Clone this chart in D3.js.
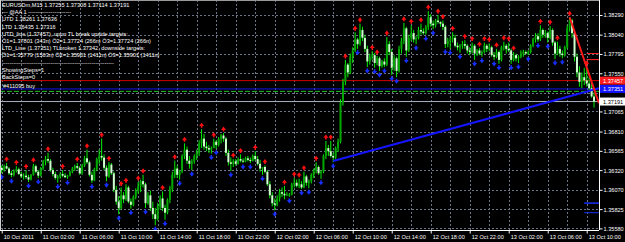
<!DOCTYPE html>
<html>
<head>
<meta charset="utf-8">
<script src="https://cdn.jsdelivr.net/npm/d3@7"></script>
<style>
  body { margin: 0; background: #000; }
  svg text { font-family: "Liberation Sans", Arial, sans-serif; }
</style>
</head>
<body>
<div id="chart"></div>
<script>
// EURUSDm M15, 10 Oct 2011 22:00 -> 13 Oct 2011 10:45
let startTime = new Date(2011, 9, 10, 22, 0);

let timeLabels = ["10 Oct 2011", "11 Oct 02:00", "11 Oct 06:00", "11 Oct 10:00", "11 Oct 14:00",
  "11 Oct 18:00", "11 Oct 22:00", "12 Oct 02:00", "12 Oct 06:00", "12 Oct 10:00", "12 Oct 14:00",
  "12 Oct 18:00", "12 Oct 22:00", "13 Oct 02:00", "13 Oct 06:00", "13 Oct 10:00"];

let priceTicks = [1.38290, 1.38040, 1.37795, 1.37550, 1.37305, 1.37065, 1.36810, 1.36565,
  1.36320, 1.36070, 1.35825, 1.35580];
// this one sits under the line labels, so MT4 hides it
let hiddenTick = 1.37305;

let opens = [1.3635,1.3632,1.3637,1.3634,1.3628,1.3626,1.3631,1.3633,1.3627,1.3624,1.3625,1.3623,1.3620,1.3626,1.3637,1.3630,
  1.3625,1.3634,1.3643,1.3646,1.3644,1.3632,1.3627,1.3622,1.3624,1.3627,1.3625,1.3623,1.3625,1.3630,1.3634,1.3637,
  1.3635,1.3628,1.3638,1.3647,1.3642,1.3626,1.3619,1.3633,1.3646,1.3650,1.3648,1.3635,1.3624,1.3639,1.3628,1.3607,
  1.3592,1.3584,1.3600,1.3595,1.3610,1.3592,1.3588,1.3598,1.3606,1.3612,1.3618,1.3614,1.3590,1.3600,1.3584,1.3576,
  1.3570,1.3586,1.3596,1.3584,1.3578,1.3594,1.3608,1.3626,1.3634,1.3626,1.3630,1.3650,1.3658,1.3644,1.3640,1.3643,
  1.3650,1.3654,1.3666,1.3672,1.3662,1.3660,1.3658,1.3660,1.3668,1.3664,1.3672,1.3676,1.3672,1.3654,1.3642,1.3640,
  1.3643,1.3640,1.3646,1.3644,1.3643,1.3647,1.3645,1.3644,1.3650,1.3646,1.3640,1.3634,1.3636,1.3630,1.3614,1.3600,
  1.3590,1.3588,1.3596,1.3604,1.3602,1.3600,1.3601,1.3601,1.3614,1.3616,1.3612,1.3614,1.3610,1.3624,1.3616,1.3618,
  1.3626,1.3632,1.3636,1.3628,1.3630,1.3650,1.3660,1.3656,1.3650,1.3648,1.3660,1.3668,1.3718,1.3744,1.3766,1.3756,
  1.3776,1.3784,1.3798,1.3792,1.3810,1.3800,1.3786,1.3770,1.3776,1.3778,1.3768,1.3774,1.3764,1.3770,1.3766,1.3792,
  1.3782,1.3762,1.3774,1.3758,1.3786,1.3796,1.3812,1.3784,1.3800,1.3806,1.3798,1.3800,1.3810,1.3808,1.3806,1.3814,
  1.3826,1.3818,1.3816,1.3822,1.3820,1.3818,1.3814,1.3792,1.3796,1.3798,1.3800,1.3790,1.3788,1.3790,1.3792,1.3790,
  1.3784,1.3782,1.3790,1.3780,1.3784,1.3780,1.3782,1.3790,1.3786,1.3788,1.3778,1.3776,1.3782,1.3772,1.3788,1.3790,
  1.3786,1.3784,1.3772,1.3778,1.3774,1.3776,1.3780,1.3782,1.3780,1.3782,1.3790,1.3798,1.3802,1.3798,1.3810,1.3804,
  1.3806,1.3800,1.3810,1.3794,1.3780,1.3786,1.3780,1.3778,1.3788,1.3812,1.3822,1.3806,1.3776,1.3756,1.3744,1.3750,
  1.3746,1.3742,1.3736,1.37255];

let highs = [1.3638,1.3639,1.3641,1.3636,1.3631,1.3633,1.3637,1.3635,1.3630,1.3628,1.3632,1.3626,1.3627,1.3640,1.3639,1.3632,
  1.3636,1.3645,1.3650,1.3654,1.3646,1.3635,1.3630,1.3626,1.3629,1.3632,1.3628,1.3626,1.3631,1.3636,1.3639,1.3641,
  1.3637,1.3640,1.3650,1.3658,1.3644,1.3630,1.3635,1.3648,1.3658,1.3672,1.3652,1.3638,1.3642,1.3641,1.3630,1.3612,
  1.3599,1.3610,1.3604,1.3614,1.3612,1.3596,1.3600,1.3609,1.3617,1.3620,1.3626,1.3616,1.3604,1.3606,1.3592,1.3584,
  1.3590,1.3600,1.3605,1.3588,1.3596,1.3612,1.3630,1.3644,1.3638,1.3632,1.3652,1.3666,1.3662,1.3650,1.3646,1.3652,
  1.3658,1.3670,1.3684,1.3678,1.3668,1.3664,1.3662,1.3672,1.3670,1.3674,1.3678,1.3679,1.3674,1.3658,1.3648,1.3646,
  1.3646,1.3648,1.3652,1.3647,1.3649,1.3650,1.3648,1.3652,1.3656,1.3650,1.3645,1.3636,1.3638,1.3632,1.3618,1.3604,
  1.3596,1.3600,1.3608,1.3610,1.3612,1.3604,1.3603,1.3616,1.3622,1.3620,1.3621,1.3618,1.3630,1.3626,1.3620,1.3628,
  1.3634,1.3642,1.3638,1.3632,1.3652,1.3669,1.3664,1.3669,1.3654,1.3662,1.3672,1.3722,1.3748,1.3772,1.3768,1.3780,
  1.3788,1.3807,1.3800,1.3818,1.3814,1.3804,1.3790,1.3780,1.3783,1.3781,1.3777,1.3776,1.3772,1.3774,1.3801,1.3796,
  1.3786,1.3778,1.3776,1.3790,1.3800,1.3819,1.3814,1.3804,1.3816,1.3810,1.3802,1.3814,1.3818,1.3812,1.3816,1.3834,
  1.3830,1.3822,1.3824,1.3829,1.3821,1.3822,1.3816,1.3800,1.3802,1.3807,1.3804,1.3794,1.3792,1.3796,1.3797,1.3792,
  1.3788,1.3794,1.3792,1.3786,1.3787,1.3784,1.3794,1.3792,1.3793,1.3790,1.3782,1.3786,1.3784,1.3790,1.3795,1.3792,
  1.3794,1.3786,1.3782,1.3780,1.3778,1.3784,1.3785,1.3784,1.3784,1.3792,1.3800,1.3806,1.3806,1.3816,1.3812,1.3810,
  1.3808,1.3815,1.3812,1.3796,1.3795,1.3790,1.3784,1.3790,1.3816,1.3826,1.3824,1.3810,1.3780,1.3764,1.3756,1.3762,
  1.3763,1.3750,1.3744,1.37308];

let lows = [1.3628,1.3630,1.3633,1.3626,1.3623,1.3624,1.3629,1.3626,1.3622,1.3620,1.3621,1.3617,1.3619,1.3625,1.3628,1.3622,
  1.3624,1.3632,1.3638,1.3641,1.3630,1.3624,1.3620,1.3616,1.3621,1.3623,1.3622,1.3621,1.3624,1.3628,1.3631,1.3633,
  1.3626,1.3626,1.3636,1.3640,1.3624,1.3616,1.3618,1.3631,1.3640,1.3644,1.3632,1.3618,1.3622,1.3626,1.3604,1.3588,
  1.3576,1.3582,1.3590,1.3593,1.3590,1.3583,1.3586,1.3595,1.3602,1.3604,1.3610,1.3584,1.3588,1.3580,1.3570,1.3562,
  1.3568,1.3582,1.3580,1.3569,1.3576,1.3590,1.3604,1.3622,1.3622,1.3620,1.3628,1.3646,1.3640,1.3634,1.3632,1.3640,
  1.3645,1.3650,1.3660,1.3658,1.3656,1.3654,1.3653,1.3660,1.3659,1.3662,1.3666,1.3668,1.3650,1.3638,1.3631,1.3636,
  1.3638,1.3639,1.3642,1.3641,1.3642,1.3643,1.3641,1.3643,1.3644,1.3638,1.3630,1.3626,1.3628,1.3612,1.3596,1.3586,
  1.3581,1.3586,1.3592,1.3598,1.3595,1.3599,1.3598,1.3600,1.3610,1.3610,1.3609,1.3608,1.3609,1.3612,1.3609,1.3615,
  1.3622,1.3628,1.3626,1.3621,1.3628,1.3646,1.3650,1.3648,1.3642,1.3646,1.3655,1.3666,1.3714,1.3740,1.3750,1.3754,
  1.3768,1.3782,1.3786,1.3790,1.3796,1.3782,1.3763,1.3766,1.3772,1.3762,1.3765,1.3758,1.3762,1.3763,1.3764,1.3778,
  1.3753,1.3758,1.3750,1.3756,1.3780,1.3792,1.3776,1.3782,1.3796,1.3794,1.3792,1.3798,1.3804,1.3804,1.3804,1.3810,
  1.3814,1.3811,1.3813,1.3818,1.3814,1.3810,1.3787,1.3788,1.3786,1.3794,1.3788,1.3784,1.3781,1.3786,1.3786,1.3780,
  1.3778,1.3780,1.3772,1.3777,1.3778,1.3776,1.3780,1.3782,1.3783,1.3776,1.3772,1.3774,1.3767,1.3770,1.3784,1.3780,
  1.3782,1.3767,1.3770,1.3770,1.3768,1.3774,1.3776,1.3779,1.3778,1.3780,1.3788,1.3794,1.3795,1.3796,1.3800,1.3800,
  1.3794,1.3798,1.3790,1.3773,1.3778,1.3776,1.3774,1.3776,1.3786,1.3808,1.3800,1.3770,1.3750,1.3738,1.3736,1.3740,
  1.3738,1.3732,1.3724,1.37114];

let closes = [1.3632,1.3637,1.3634,1.3628,1.3626,1.3631,1.3633,1.3627,1.3624,1.3625,1.3623,1.3620,1.3626,1.3637,1.3630,1.3625,
  1.3634,1.3643,1.3646,1.3644,1.3632,1.3627,1.3622,1.3624,1.3627,1.3625,1.3623,1.3625,1.3630,1.3634,1.3637,1.3635,
  1.3628,1.3638,1.3647,1.3642,1.3626,1.3619,1.3633,1.3646,1.3650,1.3648,1.3635,1.3624,1.3639,1.3628,1.3607,1.3592,
  1.3584,1.3600,1.3595,1.3610,1.3592,1.3588,1.3598,1.3606,1.3612,1.3618,1.3614,1.3590,1.3600,1.3584,1.3576,1.3570,
  1.3586,1.3596,1.3584,1.3578,1.3594,1.3608,1.3626,1.3634,1.3626,1.3630,1.3650,1.3658,1.3644,1.3640,1.3643,1.3650,
  1.3654,1.3666,1.3672,1.3662,1.3660,1.3658,1.3660,1.3668,1.3664,1.3672,1.3676,1.3672,1.3654,1.3642,1.3640,1.3643,
  1.3640,1.3646,1.3644,1.3643,1.3647,1.3645,1.3644,1.3650,1.3646,1.3640,1.3634,1.3636,1.3630,1.3614,1.3600,1.3590,
  1.3588,1.3596,1.3604,1.3602,1.3600,1.3601,1.3601,1.3614,1.3616,1.3612,1.3614,1.3610,1.3624,1.3616,1.3618,1.3626,
  1.3632,1.3636,1.3628,1.3630,1.3650,1.3660,1.3656,1.3650,1.3648,1.3660,1.3668,1.3718,1.3744,1.3766,1.3756,1.3776,
  1.3784,1.3798,1.3792,1.3810,1.3800,1.3786,1.3770,1.3776,1.3778,1.3768,1.3774,1.3764,1.3770,1.3766,1.3792,1.3782,
  1.3762,1.3774,1.3758,1.3786,1.3796,1.3812,1.3784,1.3800,1.3806,1.3798,1.3800,1.3810,1.3808,1.3806,1.3814,1.3826,
  1.3818,1.3816,1.3822,1.3820,1.3818,1.3814,1.3792,1.3796,1.3798,1.3800,1.3790,1.3788,1.3790,1.3792,1.3790,1.3784,
  1.3782,1.3790,1.3780,1.3784,1.3780,1.3782,1.3790,1.3786,1.3788,1.3778,1.3776,1.3782,1.3772,1.3788,1.3790,1.3786,
  1.3784,1.3772,1.3778,1.3774,1.3776,1.3780,1.3782,1.3780,1.3782,1.3790,1.3798,1.3802,1.3798,1.3810,1.3804,1.3806,
  1.3800,1.3810,1.3794,1.3780,1.3786,1.3780,1.3778,1.3788,1.3812,1.3822,1.3806,1.3776,1.3756,1.3744,1.3750,1.3746,
  1.3742,1.3736,1.37255,1.37191];

// fractal arrows (bar indexes)
let upFractals = [2,6,10,13,19,25,31,35,41,44,49,51,56,58,66,71,75,82,87,91,95,98,104,108,116,120,122,124,129,
  133,135,141,145,147,152,154,158,165,168,172,175,179,181,185,190,193,196,198,200,203,206,208,210,221,225,228,233,240];
let downFractals = [0,4,11,15,23,27,37,43,48,53,59,63,67,73,78,86,88,94,99,102,107,112,118,123,126,131,136,146,
  150,153,155,157,160,162,166,170,174,177,182,184,188,194,197,202,204,209,212,216,220,224,227,230];

// indicator levels and trend lines
let utdLevel = 1.37457;
let ltdLevel = 1.37351;
let bidPrice = 1.37191;
let orderPrice = 1.37320;
let upTargets = [1.37801, 1.37724, 1.37724];
let downTargets = [1.35779, 1.35901, 1.35901];
let utdLine = [[233, 1.38261], [245, 1.37170]];
let ltdLine = [[136, 1.36435], [245, 1.37359]];

let infoLines = [
  "EURUSDm,M15  1.37255 1.37308 1.37114 1.37191",
  "---      @AA 1      -----------------------",
  "UTD  1.38261  1.37636",
  "LTD  1.36435  1.37316",
  "UTD_line (1.37457), upon TL break upside targets:",
  "Ö1=1.37801 (343п) Ö2=1.37724 (266п) Ö3=1.37724 (266п)",
  "LTD_Line (1.37351) TLbroken 1.37342, downside targets:",
  "Ö1=1.35779 (1563п) Ö2=1.35901 (1411п) Ö3=1.35901 (1411п)",
  "------------------------------------------------------------",
  "ShowingSteps=1",
  "BackSteps=0"
];

let svgWidth = 625;
let svgHeight = 242;
let plot = { left: 0, right: 599, top: 0, bottom: 230 };

let barTime = i => new Date(startTime.getTime() + i * 15 * 60000);

let svg = d3.select("#chart")
  .append("svg")
  .attr("width", svgWidth)
  .attr("height", svgHeight)
  .style("background", "#000");

let xScale = d3.scaleTime()
  .domain([barTime(0), barTime(245)])
  .range([1.7, 598.9]);

let yScale = d3.scaleLinear()
  .domain([1.35580, 1.38290])
  .range([228.4, 15]);

svg.append("clipPath").attr("id", "plotClip")
  .append("rect")
  .attr("x", plot.left).attr("y", plot.top)
  .attr("width", plot.right - plot.left).attr("height", plot.bottom - plot.top);

// grid
let grid = svg.append("g").attr("stroke", "#6c7686").attr("stroke-dasharray", "2,2").attr("stroke-width", 1);
grid.selectAll("line.h")
  .data(priceTicks)
  .enter()
  .append("line")
  .attr("x1", 0).attr("x2", plot.right)
  .attr("y1", d => Math.round(yScale(d)) + 0.5)
  .attr("y2", d => Math.round(yScale(d)) + 0.5);

grid.selectAll("line.v")
  .data(d3.range(0, 244, 8))
  .enter()
  .append("line")
  .attr("x1", d => Math.round(xScale(barTime(d))) + 0.5)
  .attr("x2", d => Math.round(xScale(barTime(d))) + 0.5)
  .attr("y1", plot.top).attr("y2", plot.bottom);

let chart = svg.append("g").attr("clip-path", "url(#plotClip)");

// horizontal indicator lines
chart.append("line")
  .attr("x1", 0).attr("x2", plot.right)
  .attr("y1", yScale(utdLevel)).attr("y2", yScale(utdLevel))
  .attr("stroke", "#d00000").attr("stroke-width", 1);

chart.append("line")
  .attr("x1", 0).attr("x2", plot.right)
  .attr("y1", yScale(ltdLevel)).attr("y2", yScale(ltdLevel))
  .attr("stroke", "#1010e8").attr("stroke-width", 1);

chart.append("line")
  .attr("x1", 0).attr("x2", plot.right)
  .attr("y1", yScale(orderPrice)).attr("y2", yScale(orderPrice))
  .attr("stroke", "#20c020").attr("stroke-width", 1).attr("stroke-dasharray", "5,2");

chart.append("line")
  .attr("x1", 0).attr("x2", plot.right)
  .attr("y1", yScale(bidPrice)).attr("y2", yScale(bidPrice))
  .attr("stroke", "#a8b0c0").attr("stroke-width", 1);

// candles
let bars = d3.range(closes.length);
let candles = chart.append("g");

candles.selectAll("line.wick")
  .data(bars)
  .enter()
  .append("line")
  .attr("x1", i => xScale(barTime(i)))
  .attr("x2", i => xScale(barTime(i)))
  .attr("y1", i => yScale(highs[i]))
  .attr("y2", i => yScale(lows[i]))
  .attr("stroke", "#00f000")
  .attr("stroke-width", 1);

candles.selectAll("rect.body")
  .data(bars)
  .enter()
  .append("rect")
  .attr("x", i => xScale(barTime(i)) - 1)
  .attr("width", 2)
  .attr("y", i => yScale(Math.max(opens[i], closes[i])))
  .attr("height", i => Math.max(1, Math.abs(yScale(opens[i]) - yScale(closes[i]))))
  .attr("fill", i => closes[i] >= opens[i] ? "#00a800" : "#d0ffd0");

// fractal arrows
chart.selectAll("path.up")
  .data(upFractals)
  .enter()
  .append("path")
  .attr("transform", i => `translate(${xScale(barTime(i))}, ${yScale(highs[i]) - 4})`)
  .attr("d", "M0,-2.5L2.5,0.8L0.8,0.8L0.8,2.5L-0.8,2.5L-0.8,0.8L-2.5,0.8Z")
  .attr("fill", "#ff1010");

chart.selectAll("path.down")
  .data(downFractals)
  .enter()
  .append("path")
  .attr("transform", i => `translate(${xScale(barTime(i))}, ${yScale(lows[i]) + 4})`)
  .attr("d", "M0,2.5L2.5,-0.8L0.8,-0.8L0.8,-2.5L-0.8,-2.5L-0.8,-0.8L-2.5,-0.8Z")
  .attr("fill", "#1830ff");

// trend lines
let trendLine = d3.line()
  .x(d => xScale(barTime(d[0])))
  .y(d => yScale(d[1]));

chart.append("path")
  .attr("d", trendLine(ltdLine))
  .attr("fill", "none").attr("stroke", "#1414ff").attr("stroke-width", 2);

chart.append("path")
  .attr("d", trendLine(utdLine))
  .attr("fill", "none").attr("stroke", "#ff1a1a").attr("stroke-width", 2);

// target stubs at the right edge
chart.selectAll("line.upT")
  .data(upTargets)
  .enter()
  .append("line")
  .attr("x1", xScale(barTime(240))).attr("x2", plot.right)
  .attr("y1", d => yScale(d)).attr("y2", d => yScale(d))
  .attr("stroke", "#ff2020").attr("stroke-width", 1);

chart.selectAll("line.downT")
  .data(downTargets)
  .enter()
  .append("line")
  .attr("x1", xScale(barTime(239))).attr("x2", plot.right)
  .attr("y1", d => yScale(d)).attr("y2", d => yScale(d))
  .attr("stroke", "#1830ff").attr("stroke-width", 1);

// frame
svg.append("line").attr("x1", 0).attr("x2", plot.right).attr("y1", 0.5).attr("y2", 0.5).attr("stroke", "#9a9a9a");
svg.append("line").attr("x1", 0.5).attr("x2", 0.5).attr("y1", 0).attr("y2", plot.bottom).attr("stroke", "#d0d0d0");

// axes
let rightAxis = d3.axisRight(yScale)
  .tickValues(priceTicks.filter(d => d !== hiddenTick))
  .tickFormat(d3.format(".5f"))
  .tickSize(3)
  .tickSizeOuter(0);

let bottomAxis = d3.axisBottom(xScale)
  .tickValues(timeLabels.map((t, k) => barTime(k * 16)))
  .tickFormat((d, k) => timeLabels[k])
  .tickSize(3)
  .tickSizeOuter(0);

let yAxisG = svg.append("g")
  .attr("transform", `translate(${plot.right + 0.5}, 0)`)
  .call(rightAxis);

let xAxisG = svg.append("g")
  .attr("transform", `translate(0, ${plot.bottom + 0.5})`)
  .call(bottomAxis);

yAxisG.select(".domain").attr("stroke", "#fff").attr("d", `M0,0V${plot.bottom}`);
xAxisG.select(".domain").attr("stroke", "#fff").attr("d", `M0,0H${plot.right}`);
[yAxisG, xAxisG].forEach(g => {
  g.selectAll(".tick line").attr("stroke", "#fff");
  g.selectAll(".tick text").attr("fill", "#fff").style("font-size", "5.6px");
});
yAxisG.selectAll(".tick text").attr("x", 4).attr("dy", "0.35em");
xAxisG.selectAll(".tick text").attr("text-anchor", "start").attr("x", 1.5).attr("y", 5).attr("dy", "0.71em");

// price label boxes
let priceBoxes = [
  { price: utdLevel, fill: "#ff1c1c", color: "#fff" },
  { price: ltdLevel, fill: "#1414ff", color: "#fff" },
  { price: bidPrice, fill: "#ffffff", color: "#000" }
];
let boxG = svg.selectAll("g.pbox")
  .data(priceBoxes)
  .enter()
  .append("g")
  .attr("transform", d => `translate(${plot.right + 1}, ${yScale(d.price)})`);
boxG.append("rect")
  .attr("x", 0).attr("y", -4).attr("width", 25).attr("height", 8)
  .attr("fill", d => d.fill);
boxG.append("text")
  .attr("x", 3).attr("y", 2)
  .style("font-size", "5.6px")
  .attr("fill", d => d.color)
  .text(d => d3.format(".5f")(d.price));

// info text, top left
svg.selectAll("text.info")
  .data(infoLines)
  .enter()
  .append("text")
  .attr("x", 2)
  .attr("y", (d, i) => 7 + i * 7.2)
  .attr("fill", "#fff")
  .style("font-size", "5.6px")
  .text(d => d);

svg.append("text")
  .attr("x", 3)
  .attr("y", yScale(orderPrice) - 3)
  .attr("fill", "#fff")
  .style("font-size", "5.6px")
  .text("#411095 buy");
</script>
</body>
</html>
